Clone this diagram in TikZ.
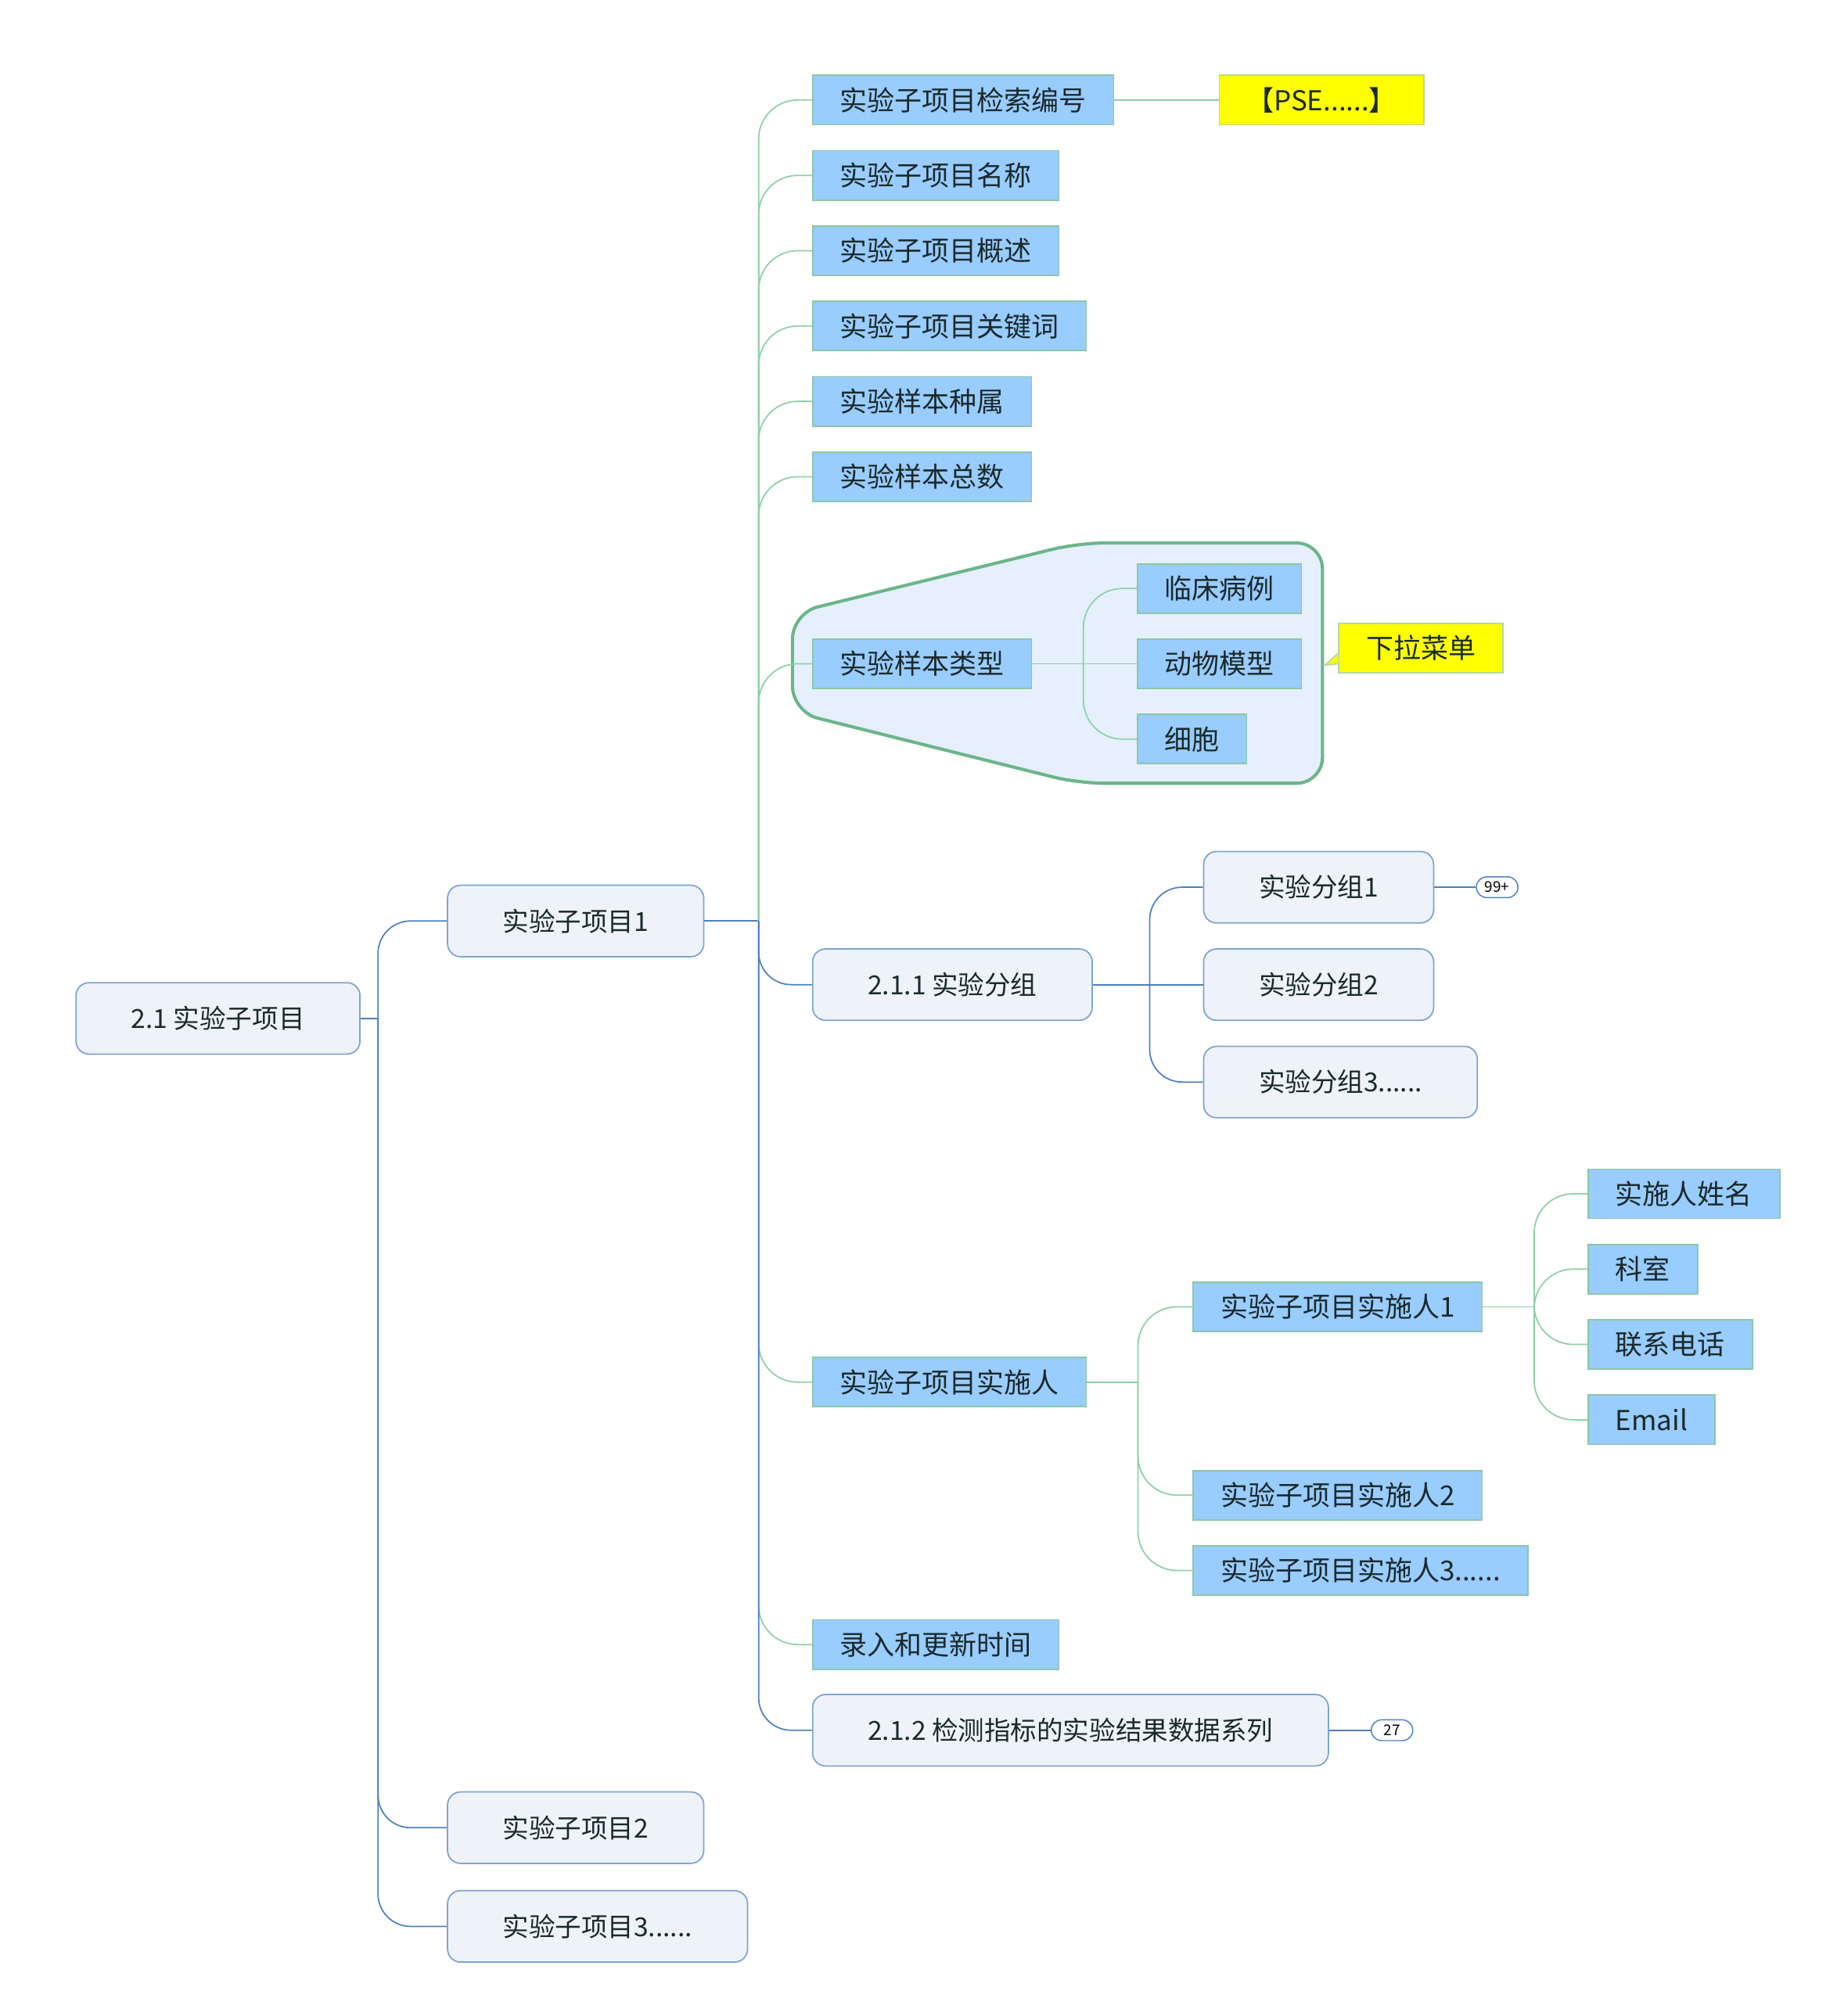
\documentclass[tikz,border=0pt]{standalone}
\usepackage{fontspec}
\setmainfont{Noto Sans CJK SC}
\usetikzlibrary{positioning,calc}
\definecolor{topicfill}{HTML}{EEF3FA}
\definecolor{topicline}{HTML}{7FA3D0}
\definecolor{linkblue}{HTML}{4F81BD}
\definecolor{leaffill}{HTML}{99CCFF}
\definecolor{leafline}{HTML}{8CC7A5}
\definecolor{linkgreen}{HTML}{8FD0A8}
\definecolor{groupfill}{HTML}{E5F0FC}
\definecolor{groupline}{HTML}{6BB58A}
\definecolor{notefill}{HTML}{FFFF00}
\definecolor{noteline}{HTML}{B5D99C}
\definecolor{textdark}{HTML}{1A2A2A}
\tikzset{
    %Define style for rounded topic boxes
    topic/.style={
           rectangle,
           rounded corners=0.2cm,
           draw=topicline, fill=topicfill,
           line width=0.6pt,
           anchor=west,
           inner xsep=0.85cm,
           minimum height=1.1cm,
           text=textdark,
           font=\fontsize{11.5}{14}\selectfont},
    %Define style for flat subtopic boxes
    leaf/.style={
           rectangle,
           draw=leafline, fill=leaffill,
           line width=0.6pt,
           anchor=west,
           inner xsep=0.42cm,
           minimum height=0.76cm,
           text=textdark,
           font=\fontsize{12}{14}\selectfont},
    note/.style={
           leaf,
           draw=noteline, fill=notefill},
    badge/.style={
           rectangle,
           rounded corners=0.16cm,
           draw=linkblue, fill=white,
           line width=0.5pt,
           minimum width=0.64cm,
           minimum height=0.32cm,
           inner sep=0pt,
           font=\fontsize{6.5}{7}\selectfont},
    % Define connector styles
    bluelink/.style={
           draw=linkblue,
           line width=0.6pt,
           rounded corners=0.5cm},
    greenlink/.style={
           draw=linkgreen,
           line width=0.6pt,
           rounded corners=0.6cm}
}
\begin{document}
\begin{tikzpicture}[x=0.02cm,y=-0.02cm]
\useasboundingbox (0,0) rectangle (1414,1552);

 %boundary round the sample types
\draw[draw=groupline, fill=groupfill, line width=1.4pt, rounded corners=0.4cm]
    (830,418) -- (1018,418) -- (1018,603) -- (830,603) -- (610,548)
    -- (610,472) -- cycle;

 %nodes
\node[topic](root) at (58,784){2.1 实验子项目};
\node[topic](p1) at (344,709){实验子项目1};
\node[topic](p2) at (344,1407){实验子项目2};
\node[topic](p3) at (344,1483){实验子项目3......};

\node[leaf](c1) at (625,77){实验子项目检索编号};
\node[leaf](c2) at (625,135){实验子项目名称};
\node[leaf](c3) at (625,193){实验子项目概述};
\node[leaf](c4) at (625,251){实验子项目关键词};
\node[leaf](c5) at (625,309){实验样本种属};
\node[leaf](c6) at (625,367){实验样本总数};
\node[leaf](c7) at (625,511){实验样本类型};
\node[topic](g1) at (625,758){2.1.1 实验分组};
\node[leaf](c9) at (625,1064){实验子项目实施人};
\node[leaf](c10) at (625,1266){录入和更新时间};
\node[topic](g2) at (625,1332){2.1.2 检测指标的实验结果数据系列};

\node[note](pse) at (938,77){【PSE......】};

\node[leaf](t1) at (875,453){临床病例};
\node[leaf](t2) at (875,511){动物模型};
\node[leaf](t3) at (875,569){细胞};
\node[note](menu) at (1030,499){下拉菜单};
\coordinate (menutip) at (1020,512);

\node[topic](s1) at (926,683){实验分组1};
\node[topic](s2) at (926,758){实验分组2};
\node[topic](s3) at (926,833){实验分组3......};
\node[badge, right=0.64cm of s1](n1){99+};
\node[badge, right=0.64cm of g2](n2){27};

\node[leaf](e1) at (918,1006){实验子项目实施人1};
\node[leaf](e2) at (918,1151){实验子项目实施人2};
\node[leaf](e3) at (918,1209){实验子项目实施人3......};

\node[leaf](d1) at (1222,919){实施人姓名};
\node[leaf](d2) at (1222,977){科室};
\node[leaf](d3) at (1222,1035){联系电话};
\node[leaf](d4) at (1222,1093){Email};

 %forks
\coordinate (rootfork) at (291,784);
\coordinate (p1fork) at (584,709);
\coordinate (typefork) at (834,511);
\coordinate (groupfork) at (885,758);
\coordinate (execfork) at (876,1064);
\coordinate (e1fork) at (1181,1006);

 %connectors
\draw[bluelink] (root.east) -- (rootfork);
\foreach \n in {p1,p2,p3}
    \draw[bluelink] (rootfork) |- (\n.west);

\draw[bluelink] (p1.east) -- (p1fork);
\foreach \n in {c1,c2,c3,c4,c5,c6,c7,c9,c10}
    \draw[greenlink] (p1fork) |- (\n.west);
\foreach \n in {g1,g2}
    \draw[bluelink] (p1fork) |- (\n.west);

\draw[greenlink] (c1.east) -- (pse.west);

\draw[greenlink] (c7.east) -- (typefork) -- (t2.west);
\foreach \n in {t1,t3}
    \draw[greenlink] (typefork) |- (\n.west);
\filldraw[fill=notefill, draw=noteline, line width=0.6pt]
    ($(menu.west)+(0,4)$) -- (menutip) -- ($(menu.west)+(0,12)$);

\draw[bluelink] (g1.east) -- (groupfork) -- (s2.west);
\foreach \n in {s1,s3}
    \draw[bluelink] (groupfork) |- (\n.west);
\draw[bluelink] (s1.east) -- (n1);
\draw[bluelink] (g2.east) -- (n2);

\draw[greenlink] (c9.east) -- (execfork);
\foreach \n in {e1,e2,e3}
    \draw[greenlink] (execfork) |- (\n.west);

\draw[greenlink] (e1.east) -- (e1fork);
\foreach \n in {d1,d2,d3,d4}
    \draw[greenlink] (e1fork) |- (\n.west);

\end{tikzpicture}
\end{document}
